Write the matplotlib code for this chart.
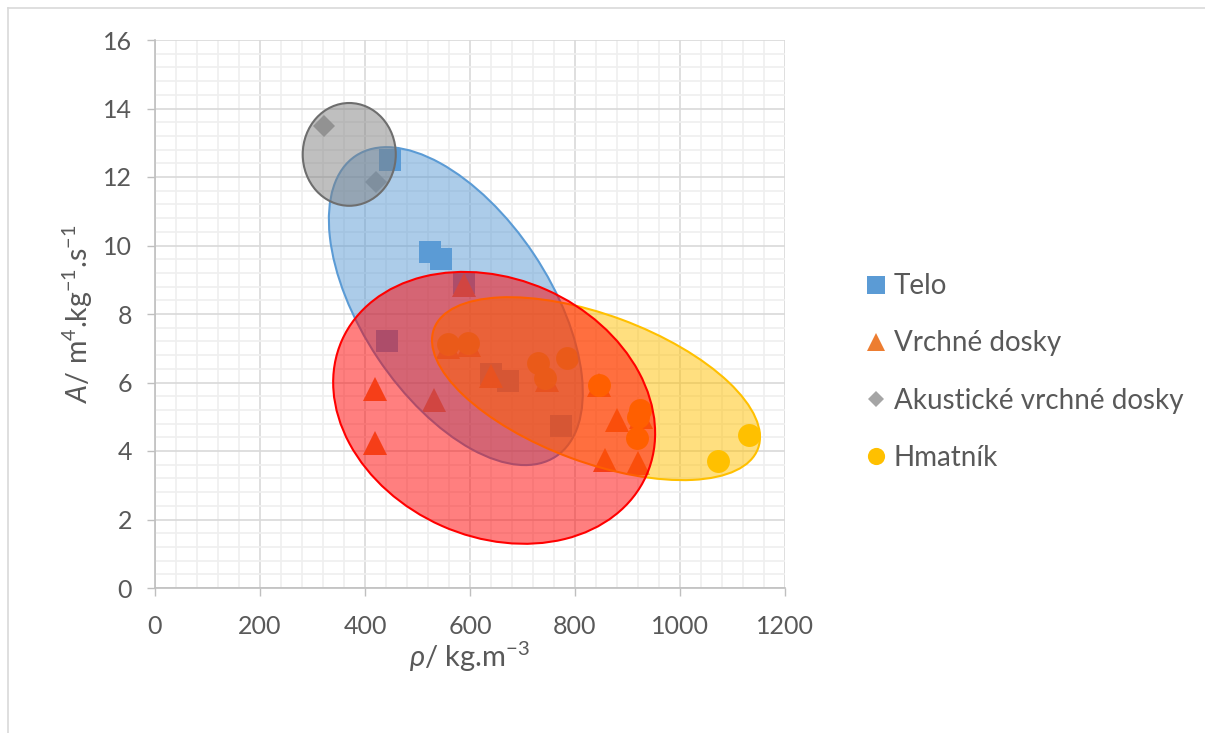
import matplotlib
matplotlib.use("Agg")
import matplotlib.pyplot as plt
from matplotlib.patches import Ellipse
from matplotlib.lines import Line2D
from matplotlib.transforms import Affine2D, ScaledTranslation
from matplotlib.ticker import MultipleLocator

plt.rcParams['font.family'] = ['Lato', 'DejaVu Sans']
plt.rcParams['mathtext.fontset'] = 'custom'
plt.rcParams['mathtext.rm'] = 'Lato'
plt.rcParams['mathtext.it'] = 'Lato:italic'

# ---- data: density rho (kg/m3) and A (m4/kg/s) per wood group ----
telo_rho = [448, 524, 545, 589, 442, 640, 672, 773]
telo_A = [12.5, 9.8, 9.6, 8.9, 7.2, 6.25, 6.04, 4.73]

vrchne_rho = [589, 419, 419, 531, 640, 558, 598, 747, 846, 880, 857, 920, 925]
vrchne_A = [8.85, 5.8, 4.23, 5.5, 6.2, 7.05, 7.1, 6.07, 5.93, 4.9, 3.74, 3.65, 5.0]

akust_rho = [322, 421]
akust_A = [13.5, 11.85]

hmatnik_rho = [558, 596, 729, 743, 785, 846, 924, 920, 918, 1072, 1131]
hmatnik_A = [7.12, 7.15, 6.57, 6.13, 6.72, 5.93, 5.2, 5.0, 4.38, 3.7, 4.47]

series_names = ['Telo', 'Vrchné dosky', 'Akustické vrchné dosky', 'Hmatník']

# group envelopes: centre (data), full width / height (pt), tilt (deg)
envelopes = [
    # centre,        w,     h,    angle, face,      edge,      z
    ((573, 8.23), 260.0, 135.0, -56.3, '#5B9BD5', '#5B9BD5', 3),
    ((370, 12.66), 67.0, 74.0, 0.0, '#808080', '#6E6E6E', 4),
    ((840, 5.82), 248.7, 106.1, -20.3, '#FFC000', '#FFC000', 5),
    ((646, 5.26), 239.8, 185.9, -23.9, '#FF0000', '#FF0000', 6),
]

W, H = 1205, 733
fig = plt.figure(figsize=(W / 100, H / 100), dpi=100)
ax = fig.add_axes([155 / W, 1 - 588 / H, 630 / W, 548 / H])

ax.plot(telo_rho, telo_A, ls='none', marker='s', ms=16.5, color='#5B9BD5',
        mew=0, zorder=2, label=series_names[0])
ax.plot(vrchne_rho, vrchne_A, ls='none', marker='^', ms=17.5, color='#ED7D31',
        mew=0, zorder=2, label=series_names[1])
ax.plot(akust_rho, akust_A, ls='none', marker='D', ms=11.5, color='#A5A5A5',
        mew=0, zorder=2, label=series_names[2])
ax.plot(hmatnik_rho, hmatnik_A, ls='none', marker='o', ms=16.5, color='#FFC000',
        mew=0, zorder=2, label=series_names[3])

ax.set_xlim(0, 1200)
ax.set_ylim(0, 16)
ax.xaxis.set_major_locator(MultipleLocator(200))
ax.xaxis.set_minor_locator(MultipleLocator(40))
ax.yaxis.set_major_locator(MultipleLocator(2))
ax.yaxis.set_minor_locator(MultipleLocator(0.4))

ax.grid(which='major', color='#D9D9D9', lw=1.2, zorder=0)
ax.grid(which='minor', color='#EFEFEF', lw=1.2, zorder=0)
ax.set_axisbelow(True)

for s in ('top', 'right'):
    ax.spines[s].set_visible(False)
for s in ('left', 'bottom'):
    ax.spines[s].set_color('#BFBFBF')
    ax.spines[s].set_linewidth(1.2)

ax.tick_params(which='major', direction='out', length=5.5, width=1.0,
               color='#BFBFBF', labelcolor='#595959', labelsize=18)
ax.tick_params(axis='x', which='major', pad=14)
ax.tick_params(axis='y', which='major', pad=11)
ax.tick_params(which='minor', length=0)

# draw the envelopes in point units around a data-space centre
pt = fig.dpi / 72.0
for (cx, cy), w, h, ang, face, edge, z in envelopes:
    tr = Affine2D().scale(pt) + ScaledTranslation(cx, cy, ax.transData)
    ax.add_patch(Ellipse((0, 0), w, h, angle=ang, transform=tr,
                         facecolor=face, alpha=0.5, edgecolor='none', zorder=z))
    ax.add_patch(Ellipse((0, 0), w, h, angle=ang, transform=tr,
                         facecolor='none', edgecolor=edge, lw=1.5, zorder=z))

ax.set_xlabel(r'$\mathit{\rho}$/ kg.m$^{-3}$', fontsize=21, color='#595959', labelpad=1)
ax.set_ylabel(r'$\mathit{A}$/ m$^{4}$.kg$^{-1}$.s$^{-1}$', fontsize=20.5,
              color='#595959', labelpad=6)

leg = fig.legend(loc='center left', bbox_to_anchor=(852 / W, 1 - 372 / H),
                 frameon=False, fontsize=20, labelcolor='#595959',
                 handlelength=0.7, handletextpad=0.3, labelspacing=1.12,
                 borderpad=0, markerscale=0.75)

# chart frame
fig.add_artist(Line2D([8 / W, 8 / W], [0, 1 - 8 / H], transform=fig.transFigure,
                      color='#D9D9D9', lw=1.2))
fig.add_artist(Line2D([8 / W, 1], [1 - 8 / H, 1 - 8 / H], transform=fig.transFigure,
                      color='#D9D9D9', lw=1.2))

fig.savefig('out.png', dpi=100)
